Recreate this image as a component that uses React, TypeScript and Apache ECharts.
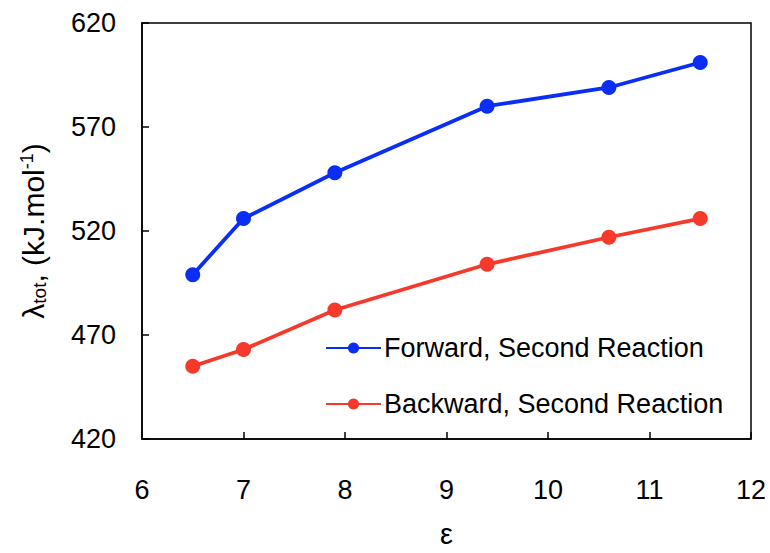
import React, { useEffect, useRef } from "react";
import * as echarts from "echarts";

const epsilonValues = [6.5, 7, 7.9, 9.4, 10.6, 11.5];
const forwardValues = [499, 526, 548, 580, 589, 601];
const backwardValues = [455, 463, 482, 504, 517, 526];
const seriesNames = ["Forward, Second Reaction", "Backward, Second Reaction"];

const FONT = "Arial, 'Liberation Sans', Helvetica, sans-serif";

export default function App() {
  const ref = useRef<HTMLDivElement>(null);
  useEffect(() => {
    if (!ref.current) return;
    const chart = echarts.init(ref.current, undefined, { renderer: "svg" });
    const mk = (vals: number[]) => epsilonValues.map((x, i) => [x, vals[i]]);
    chart.setOption({
      animation: false,
      backgroundColor: "#fff",
      textStyle: { fontFamily: FONT },
      grid: {
        left: 142,
        right: 19,
        top: 23,
        bottom: 110,
        show: true,
        borderColor: "#000",
        borderWidth: 1.5,
      },
      legend: {
        left: 325,
        top: 334,
        padding: 0,
        orient: "vertical",
        itemWidth: 55,
        itemHeight: 14,
        itemGap: 28,
        data: seriesNames,
        textStyle: { fontSize: 27, lineHeight: 28, color: "#000", fontFamily: FONT, padding: [0, 0, 0, -2] },
      },
      xAxis: {
        type: "value",
        min: 6,
        max: 12,
        interval: 1,
        name: "ε",
        nameLocation: "middle",
        nameGap: 80,
        nameTextStyle: { fontSize: 29, color: "#000", fontFamily: FONT },
        axisLine: { show: true, lineStyle: { color: "#000", width: 1.5 } },
        axisTick: { show: true, inside: true, length: 7, lineStyle: { color: "#000", width: 1.5 } },
        axisLabel: { fontSize: 27, color: "#000", margin: 37, fontFamily: FONT },
        splitLine: { show: false },
      },
      yAxis: {
        type: "value",
        min: 420,
        max: 620,
        interval: 50,
        name: "{a|λ}{sub|tot}{a|, (kJ.mol}{sup|-1}{a|)}",
        nameLocation: "middle",
        nameRotate: 90,
        nameGap: 93,
        nameTextStyle: {
          rich: {
            a: { fontSize: 30, color: "#000", fontFamily: FONT },
            sub: { fontSize: 19, color: "#000", fontFamily: FONT, verticalAlign: "bottom", padding: [12, 0, 0, 0] },
            sup: { fontSize: 18, color: "#000", fontFamily: FONT, verticalAlign: "top", padding: [0, 0, 12, 0] },
          },
        },
        axisLine: { show: true, lineStyle: { color: "#000", width: 1.5 } },
        axisTick: { show: true, inside: true, length: 7, lineStyle: { color: "#000", width: 1.5 } },
        axisLabel: { fontSize: 27, color: "#000", margin: 26, fontFamily: FONT },
        splitLine: { show: false },
      },
      series: [
        {
          name: seriesNames[0],
          type: "line",
          data: mk(forwardValues),
          symbol: "circle",
          symbolSize: 15,
          color: "#0a2ef5",
          lineStyle: { width: 3.8, color: "#0a2ef5" },
          itemStyle: { color: "#0a2ef5" },
        },
        {
          name: seriesNames[1],
          type: "line",
          data: mk(backwardValues),
          symbol: "circle",
          symbolSize: 15,
          color: "#f5392b",
          lineStyle: { width: 3.8, color: "#f5392b" },
          itemStyle: { color: "#f5392b" },
        },
      ],
    });
    return () => chart.dispose();
  }, []);
  return (
    <div
      ref={ref}
      style={{ position: "absolute", left: 0, top: 0, width: 770, height: 553 }}
    />
  );
}
